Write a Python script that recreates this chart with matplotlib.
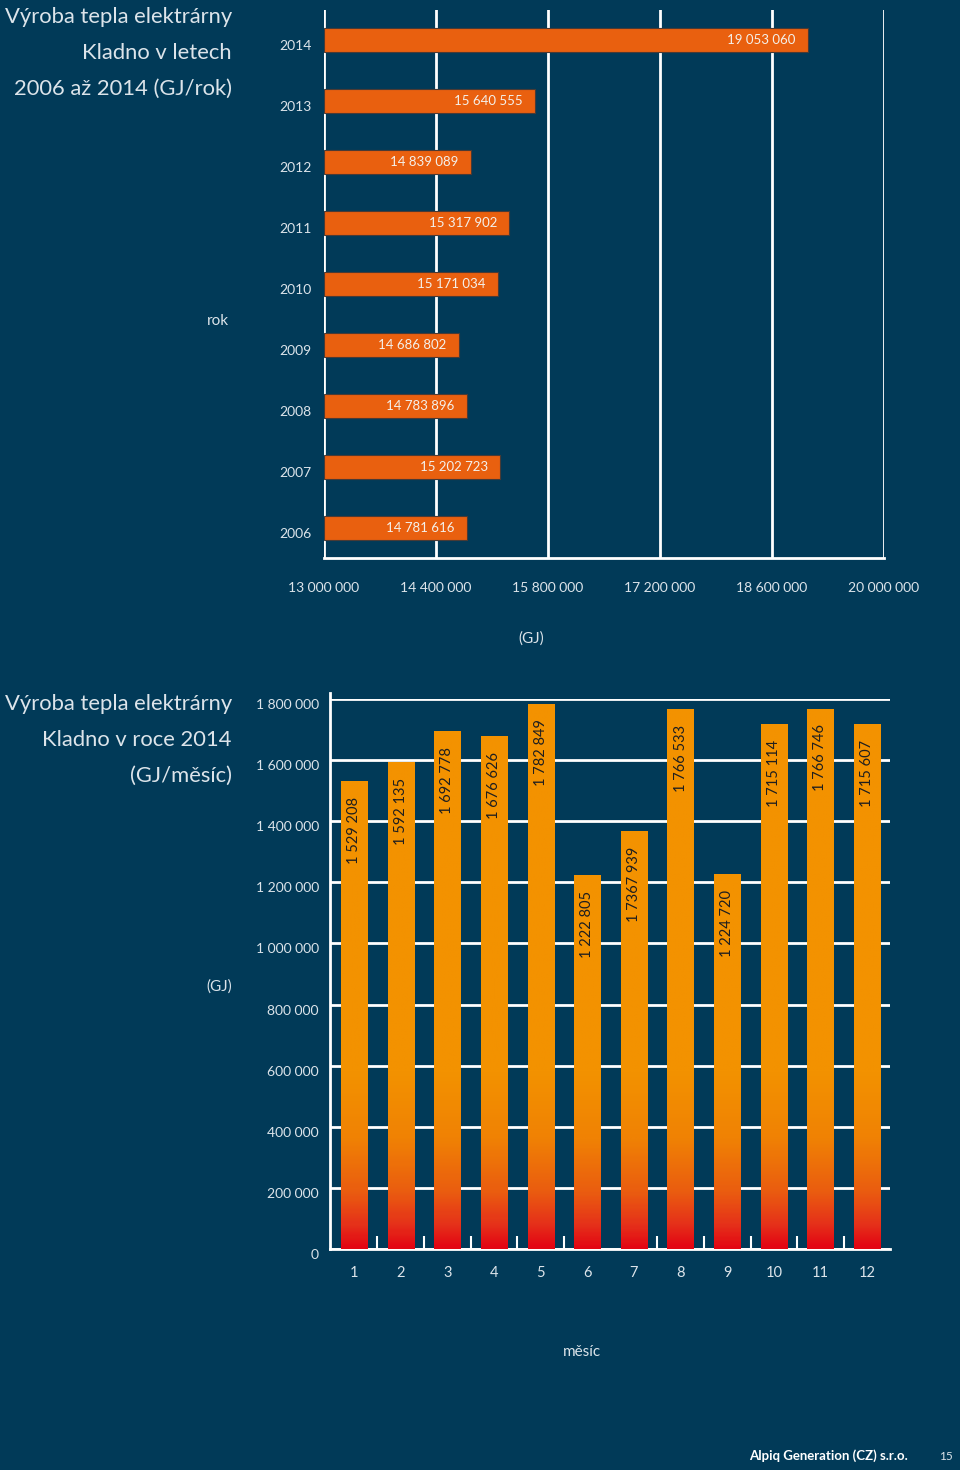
import numpy as np
import matplotlib
matplotlib.use('Agg')
import matplotlib.pyplot as plt
from matplotlib.colors import LinearSegmentedColormap

plt.rcParams['font.family'] = ['Lato', 'DejaVu Sans']

# data - rocni vyroba tepla
years = ['2006', '2007', '2008', '2009', '2010', '2011', '2012', '2013', '2014']
year_values = [14781616, 15202723, 14783896, 14686802, 15171034, 15317902, 14839089, 15640555, 19053060]
year_labels = ['14 781 616', '15 202 723', '14 783 896', '14 686 802', '15 171 034',
               '15 317 902', '14 839 089', '15 640 555', '19 053 060']
x_ticks_top = [13000000, 14400000, 15800000, 17200000, 18600000, 20000000]
x_ticklabels_top = ['13 000 000', '14 400 000', '15 800 000', '17 200 000', '18 600 000', '20 000 000']

# data - mesicni vyroba 2014
months = [1, 2, 3, 4, 5, 6, 7, 8, 9, 10, 11, 12]
month_values = [1529208, 1592135, 1692778, 1676626, 1782849, 1222805,
                1367939, 1766533, 1224720, 1715114, 1766746, 1715607]
month_labels = ['1 529 208', '1 592 135', '1 692 778', '1 676 626', '1 782 849', '1 222 805',
                '1 7367 939', '1 766 533', '1 224 720', '1 715 114', '1 766 746', '1 715 607']
y_ticks_bot = [0, 200000, 400000, 600000, 800000, 1000000, 1200000, 1400000, 1600000, 1800000]
y_ticklabels_bot = ['0', '200 000', '400 000', '600 000', '800 000', '1 000 000',
                    '1 200 000', '1 400 000', '1 600 000', '1 800 000']

BG = '#013a58'
TXT = '#dce4ea'
W = 960
H = 1470

fig = plt.figure(figsize=(W / 100, H / 100), dpi=100, facecolor=BG)

def fx(px):
    return px / W

def fy(py):
    return 1 - py / H

##### horni graf
ax1 = fig.add_axes([fx(324), fy(558), fx(560), (558 - 10) / H])
ax1.set_facecolor(BG)
ypos = np.arange(len(years))
ax1.barh(ypos, [v - 13000000 for v in year_values], left=13000000, height=0.4,
         color='#e9600f', edgecolor='#4a3a35', linewidth=0.8, zorder=3)
for i in range(len(years)):
    ax1.annotate(year_labels[i], (year_values[i], ypos[i]), xytext=(-9, 0),
                 textcoords='offset points', ha='right', va='center',
                 color='#f4f0ea', fontsize=9.5, zorder=4)
ax1.set_xlim(13000000, 20000000)
ax1.set_ylim(-0.49, 8.49)
ax1.set_xticks(x_ticks_top)
ax1.set_xticklabels(x_ticklabels_top)
ax1.set_yticks(ypos)
ax1.set_yticklabels(years)
for t in ax1.get_yticklabels():
    t.set_va('top')
ax1.tick_params(axis='y', length=0, pad=9, labelcolor=TXT, labelsize=10)
ax1.tick_params(axis='x', length=0, pad=17, labelcolor=TXT, labelsize=10)
ax1.grid(axis='x', color='white', linewidth=2, zorder=1)
for s in ['top', 'right', 'left']:
    ax1.spines[s].set_visible(False)
ax1.spines['bottom'].set_color('white')
ax1.spines['bottom'].set_linewidth(2)

fig.text(fx(232), fy(17), 'Výroba tepla elektrárny', ha='right', va='center', color=TXT, fontsize=15.8)
fig.text(fx(232), fy(53), 'Kladno v letech', ha='right', va='center', color=TXT, fontsize=15.8)
fig.text(fx(232), fy(89), '2006 až 2014 (GJ/rok)', ha='right', va='center', color=TXT, fontsize=15.8)
fig.text(fx(229), fy(321), 'rok', ha='right', va='center', color=TXT, fontsize=11)
fig.text(fx(531), fy(639), '(GJ)', ha='center', va='center', color=TXT, fontsize=11)

##### dolni graf
ax2 = fig.add_axes([fx(330), fy(1249), fx(560), 550 / H])
ax2.set_facecolor(BG)
cmap = LinearSegmentedColormap.from_list('grad', [
    (0.0, '#e30613'), (0.04, '#e5301a'), (0.1, '#ea5c10'), (0.2, '#f08204'),
    (0.32, '#f39200'), (1.0, '#f39200')])
bw = 0.56
for i in range(len(months)):
    x0 = months[i] - bw / 2
    h = month_values[i]
    grad = np.linspace(0, h / 1800000, 256).reshape(-1, 1)
    ax2.imshow(grad, extent=(x0, x0 + bw, 0, h), origin='lower', aspect='auto',
               cmap=cmap, vmin=0, vmax=1, zorder=3, interpolation='bilinear')
    ax2.annotate(month_labels[i], (months[i], h), xytext=(0, -11),
                 textcoords='offset points', ha='center', va='top', rotation=90,
                 color='#1f1f1f', fontsize=10.5, zorder=4)
ax2.set_xlim(0.485, 12.49)
ax2.set_ylim(0, 1800000)
ax2.set_yticks(y_ticks_bot)
ax2.set_yticklabels(y_ticklabels_bot)
for t in ax2.get_yticklabels():
    t.set_va('top')
ax2.set_xticks(months)
ax2.set_xticklabels([str(m) for m in months])
ax2.tick_params(axis='x', length=0, pad=12, labelcolor=TXT, labelsize=10.5)
ax2.tick_params(axis='y', length=0, pad=8, labelcolor=TXT, labelsize=10)
ax2.grid(axis='y', color='white', linewidth=2, zorder=1)
sep_ticks = [1.5, 2.5, 3.5, 4.5, 5.5, 7.5, 8.5, 9.5, 10.5, 11.5]
ax2.vlines(sep_ticks, 0, 42000, color='white', linewidth=1.5, zorder=2)
for s in ['top', 'right']:
    ax2.spines[s].set_visible(False)
for s in ['bottom', 'left']:
    ax2.spines[s].set_color('white')
    ax2.spines[s].set_linewidth(2)
ax2.spines['left'].set_bounds(0, 1818000)

fig.text(fx(232), fy(704), 'Výroba tepla elektrárny', ha='right', va='center', color=TXT, fontsize=15.8)
fig.text(fx(232), fy(740), 'Kladno v roce 2014', ha='right', va='center', color=TXT, fontsize=15.8)
fig.text(fx(232), fy(776), '(GJ/měsíc)', ha='right', va='center', color=TXT, fontsize=15.8)
fig.text(fx(232), fy(987), '(GJ)', ha='right', va='center', color=TXT, fontsize=11)
fig.text(fx(582), fy(1352), 'měsíc', ha='center', va='center', color=TXT, fontsize=11)

fig.text(fx(908), fy(1456), 'Alpiq Generation (CZ) s.r.o.', ha='right', va='center',
         color='white', fontsize=9.5, fontweight='bold')
fig.text(fx(953), fy(1456), '15', ha='right', va='center', color=TXT, fontsize=8.5)

plt.savefig('out.png', dpi=100, facecolor=BG)
